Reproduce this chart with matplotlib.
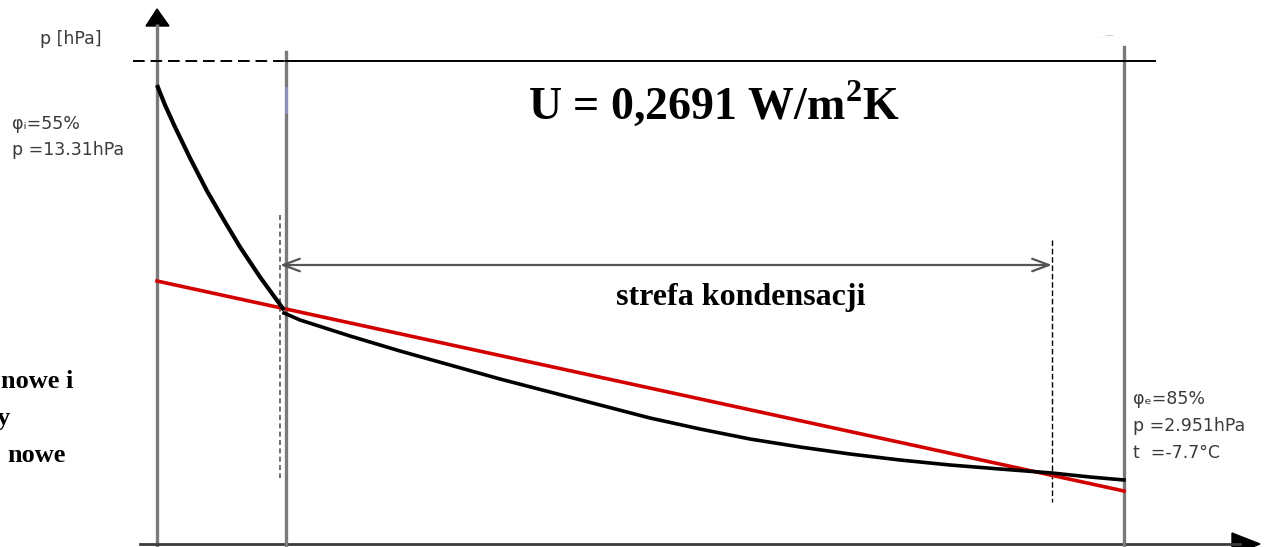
import numpy as np
import matplotlib.pyplot as plt

plt.rcParams["mathtext.fontset"] = "custom"
plt.rcParams["mathtext.rm"] = "Liberation Serif:bold"
plt.rcParams["mathtext.bf"] = "Liberation Serif:bold"

# schematic coordinates (drawing units, y grows downward)
wall_x = [286, 1124]          # inner / outer face of the partition
zone_x = [280, 1052]          # condensation zone limits
# saturation pressure curve, inner layer and the rest of the wall
ps_in_x = [157, 165, 175, 190, 207, 225, 240, 260, 284]
ps_in_y = [85, 105, 127, 158, 191, 222, 247, 277, 310]
ps_out_x = [284, 300, 325, 350, 400, 450, 500, 550, 600, 650, 700,
            750, 800, 850, 900, 950, 1000, 1052, 1090, 1124]
ps_out_y = [313, 320, 328, 336, 351, 365, 379, 392, 405, 418, 429,
            439, 447, 454, 460, 465, 469, 473, 477, 480]
# partial pressure line
p_x = [157, 1124]
p_y = [281, 491]

U_text = "U = 0,2691 W/m$^{2}$K"
zone_text = "strefa kondensacji"
in_labels = ["\u03c6\u1d62=55%", "p =13.31hPa"]
out_labels = ["\u03c6\u2091=85%", "p =2.951hPa", "t  =-7.7\u00b0C"]
side_text = ["nowe i", "y", "nowe"]

fig = plt.figure(figsize=(12.68, 5.47), dpi=100)
ax = fig.add_axes([0, 0, 1, 1])
ax.set_xlim(0, 1268)
ax.set_ylim(547, 0)
ax.axis("off")

gray = "#7a7a7a"

# axes of the diagram
ax.plot([157, 157], [547, 24], color=gray, lw=2.4, solid_capstyle="butt")
ax.plot([140, 1240], [544, 544], color="#3a3a3a", lw=2.0)
ax.fill([146, 169, 157], [26, 26, 9], color="black")
ax.fill([1232, 1232, 1260], [533, 555, 544], color="black")

# walls
ax.plot([wall_x[0]] * 2, [52, 547], color=gray, lw=2.4)
ax.plot([wall_x[1]] * 2, [47, 547], color=gray, lw=2.4)
ax.plot([wall_x[0]] * 2, [88, 112], color="#9a9ae0", lw=2.0, alpha=0.7)

# top reference line
ax.plot([133, 286], [61, 61], color="black", lw=1.4, ls=(0, (6, 3)))
ax.plot([286, 1155], [61, 61], color="black", lw=1.4)

# condensation zone boundaries
ax.plot([zone_x[0]] * 2, [215, 478], color="#555555", lw=1.2, ls=(0, (3, 2)))
ax.plot([zone_x[1]] * 2, [240, 502], color="black", lw=1.0, ls=(0, (4, 2)))
ax.annotate("", xy=(zone_x[0], 265), xytext=(zone_x[1], 265),
            arrowprops=dict(arrowstyle="<->,head_length=1.2,head_width=0.45",
                            color="#555555", lw=1.6, shrinkA=0, shrinkB=0))

# pressure lines
ax.plot(p_x, p_y, color="#d40000", lw=2.6)
ax.plot(ps_in_x, ps_in_y, color="black", lw=3.0, solid_capstyle="butt")
ax.plot(ps_out_x, ps_out_y, color="black", lw=2.6)

# texts
small = dict(fontsize=12.5, color="#3a3a3a", family="DejaVu Sans")
ax.text(40, 39, "p [hPa]", va="center", **small)
for i, s in enumerate(in_labels):
    ax.text(12, 124 + 26 * i, s, va="center", **small)
for i, s in enumerate(out_labels):
    ax.text(1133, 399 + 27 * i, s, va="center", **small)
ax.text(1100, 36, ". \u2014", fontsize=6, color="#bbbbbb", va="center")

ax.text(714, 104, U_text, ha="center", va="center", fontsize=33,
        fontweight="bold", family="Liberation Serif")
ax.text(741, 298, zone_text, ha="center", va="center", fontsize=23,
        fontweight="bold", family="Liberation Serif")
side_right = [73, 10, 66]
for i, s in enumerate(side_text):
    ax.text(side_right[i], 381 + 37 * i, s, ha="right", va="center",
            fontsize=19, fontweight="bold", family="Liberation Serif")

fig.savefig("out.png", dpi=100)
